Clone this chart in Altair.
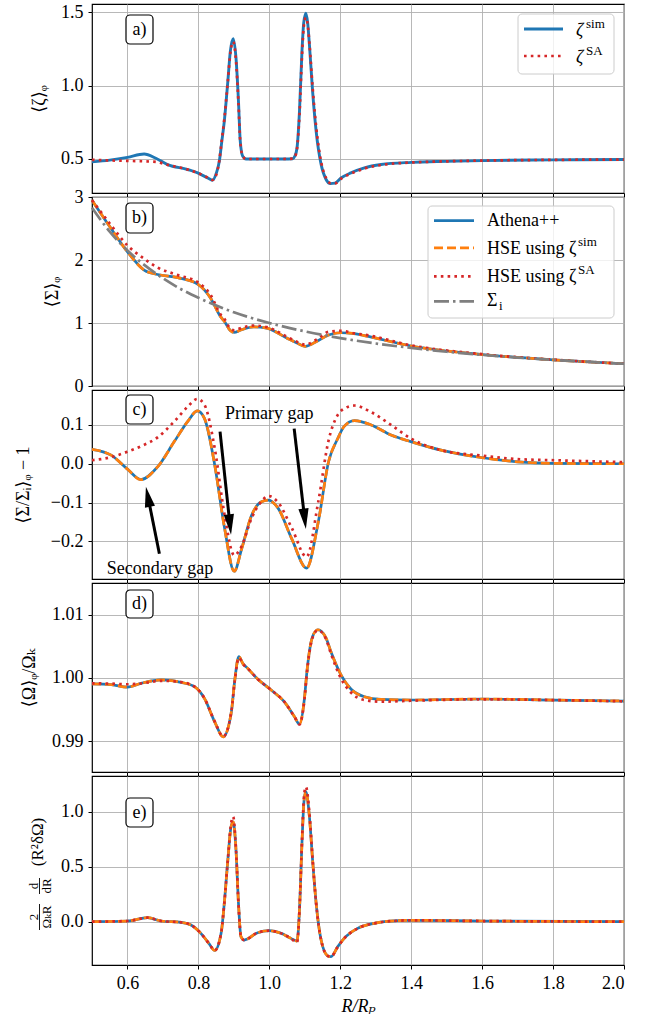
import math
import altair as alt
import pandas as pd

# ---------------- data ----------------
# panel a : <zeta>_phi
R_A = [0.50, 0.55, 0.60, 0.647, 0.68, 0.713, 0.77, 0.798, 0.826, 0.840,
       0.850, 0.859, 0.866, 0.873, 0.883, 0.890, 0.898, 0.906, 0.913, 0.918,
       0.925, 0.934, 0.97, 1.00, 1.04, 1.066, 1.072, 1.078, 1.085, 1.092,
       1.097, 1.103, 1.108, 1.113, 1.122, 1.132, 1.146, 1.160, 1.172, 1.185,
       1.202, 1.230, 1.268, 1.315, 1.400, 1.500, 1.600, 1.800, 2.000]
ZETA_SIM = [0.480, 0.492, 0.511, 0.534, 0.505, 0.462, 0.428, 0.405, 0.371, 0.355,
            0.400, 0.484, 0.620, 0.757, 1.030, 1.234, 1.321, 1.189, 0.893, 0.621,
            0.518, 0.500, 0.500, 0.500, 0.500, 0.502, 0.520, 0.575, 0.825, 1.234,
            1.430, 1.495, 1.430, 1.280, 0.961, 0.689, 0.462, 0.360, 0.332, 0.335,
            0.370, 0.405, 0.439, 0.462, 0.477, 0.484, 0.489, 0.494, 0.496]
ZETA_SA = [0.494, 0.490, 0.487, 0.484, 0.480, 0.460, 0.428, 0.405, 0.373, 0.357,
           0.390, 0.490, 0.630, 0.770, 1.030, 1.220, 1.300, 1.170, 0.880, 0.620,
           0.520, 0.500, 0.500, 0.500, 0.500, 0.502, 0.515, 0.570, 0.800, 1.200,
           1.400, 1.465, 1.420, 1.290, 0.990, 0.720, 0.480, 0.370, 0.335, 0.333,
           0.365, 0.400, 0.435, 0.459, 0.476, 0.484, 0.489, 0.494, 0.496]

# panel b : <Sigma>_phi
R_B = [0.50, 0.55, 0.60, 0.647, 0.685, 0.742, 0.80, 0.835, 0.862, 0.874,
       0.890, 0.901, 0.918, 0.955, 0.993, 1.049, 1.075, 1.101, 1.134, 1.167,
       1.202, 1.240, 1.268, 1.40, 1.60, 1.80, 2.00]
SIGMA_ATHENA = [2.95, 2.53, 2.13, 1.84, 1.77, 1.72, 1.61, 1.39, 1.105, 1.02,
                0.88, 0.85, 0.885, 0.940, 0.918, 0.763, 0.69, 0.630, 0.71, 0.81,
                0.845, 0.83, 0.80, 0.635, 0.50, 0.416, 0.353]
SIGMA_HSE_SIM = [2.95, 2.53, 2.13, 1.84, 1.77, 1.72, 1.61, 1.39, 1.105, 1.02,
                 0.88, 0.85, 0.885, 0.940, 0.918, 0.763, 0.69, 0.630, 0.71, 0.81,
                 0.845, 0.83, 0.80, 0.635, 0.50, 0.416, 0.353]
SIGMA_HSE_SA = [2.95, 2.58, 2.23, 2.02, 1.88, 1.76, 1.64, 1.44, 1.14, 1.06,
                0.91, 0.885, 0.915, 0.960, 0.935, 0.785, 0.71, 0.655, 0.74, 0.86,
                0.875, 0.835, 0.815, 0.645, 0.505, 0.418, 0.354]
R_I = [0.50, 0.55, 0.60, 0.65, 0.70, 0.75, 0.80, 0.90, 1.00, 1.10,
       1.20, 1.30, 1.40, 1.50, 1.60, 1.70, 1.80, 1.90, 2.00]
SIGMA_I = [2.83, 2.45, 2.15, 1.91, 1.71, 1.54, 1.40, 1.17, 1.00, 0.867,
           0.761, 0.675, 0.604, 0.544, 0.494, 0.451, 0.414, 0.382, 0.354]

# panel c : <Sigma/Sigma_i>_phi - 1
R_C = [0.50, 0.554, 0.60, 0.638, 0.685, 0.732, 0.77, 0.797, 0.817, 0.846,
       0.874, 0.901, 0.922, 0.950, 0.978, 0.997, 1.025, 1.063, 1.105, 1.138,
       1.167, 1.193, 1.211, 1.240, 1.287, 1.343, 1.399, 1.484, 1.597, 1.70,
       1.804, 2.00]
C_ATHENA = [0.037, 0.022, -0.014, -0.041, -0.008, 0.057, 0.109, 0.136, 0.117, -0.003,
            -0.167, -0.277, -0.219, -0.133, -0.098, -0.094, -0.115, -0.193, -0.269, -0.150,
            0.005, 0.065, 0.096, 0.111, 0.100, 0.074, 0.057, 0.035, 0.016, 0.005,
            0.001, 0.000]
C_HSE_SIM = [0.037, 0.022, -0.014, -0.041, -0.008, 0.057, 0.109, 0.136, 0.117, -0.003,
             -0.167, -0.277, -0.219, -0.133, -0.098, -0.094, -0.115, -0.193, -0.269, -0.150,
             0.005, 0.065, 0.096, 0.111, 0.100, 0.074, 0.057, 0.035, 0.016, 0.005,
             0.001, 0.000]
C_HSE_SA = [0.009, 0.017, 0.031, 0.045, 0.068, 0.109, 0.147, 0.167, 0.152, 0.040,
            -0.133, -0.236, -0.212, -0.140, -0.097, -0.083, -0.100, -0.165, -0.240, -0.098,
            0.060, 0.126, 0.142, 0.150, 0.133, 0.100, 0.065, 0.035, 0.021, 0.012,
            0.009, 0.004]

# panel d : <Omega>_phi / Omega_K
R_D = [0.50, 0.554, 0.60, 0.638, 0.695, 0.751, 0.789, 0.817, 0.846, 0.870,
       0.893, 0.902, 0.914, 0.925, 0.939, 0.967, 1.005, 1.042, 1.071, 1.085,
       1.099, 1.106, 1.113, 1.122, 1.137, 1.160, 1.174, 1.202, 1.230, 1.268,
       1.315, 1.399, 1.597, 1.804, 2.00]
D_ATHENA = [0.99905, 0.99895, 0.99855, 0.99914, 0.99968, 0.99930, 0.99862, 0.99676, 0.99306, 0.99068,
            0.99465, 0.99940, 1.00338, 1.00230, 1.00152, 0.99984, 0.99810, 0.99624, 0.99386, 0.99270,
            0.99676, 1.00100, 1.00420, 1.00656, 1.00762, 1.00629, 1.00410, 1.00050, 0.99825, 0.99703,
            0.99660, 0.99651, 0.99667, 0.99650, 0.99635]
D_HSE_SIM = [0.99905, 0.99895, 0.99855, 0.99914, 0.99968, 0.99930, 0.99862, 0.99676, 0.99306, 0.99068,
             0.99465, 0.99940, 1.00338, 1.00230, 1.00152, 0.99984, 0.99810, 0.99624, 0.99386, 0.99270,
             0.99676, 1.00100, 1.00420, 1.00656, 1.00762, 1.00629, 1.00410, 1.00050, 0.99825, 0.99703,
             0.99660, 0.99651, 0.99667, 0.99650, 0.99635]
D_HSE_SA = [0.99915, 0.99910, 0.99900, 0.99912, 0.99955, 0.99935, 0.99862, 0.99680, 0.99310, 0.99075,
            0.99470, 0.99930, 1.00320, 1.00225, 1.00150, 0.99984, 0.99810, 0.99624, 0.99386, 0.99265,
            0.99660, 1.00080, 1.00400, 1.00640, 1.00755, 1.00610, 1.00380, 0.99990, 0.99770, 0.99650,
            0.99625, 0.99640, 0.99662, 0.99650, 0.99630]

# panel e : 2/(Omega_K R) d/dR (R^2 dOmega)
R_E = [0.50, 0.60, 0.657, 0.695, 0.751, 0.779, 0.807, 0.830, 0.846, 0.864,
       0.873, 0.883, 0.892, 0.898, 0.906, 0.913, 0.920, 0.929, 0.967, 1.000,
       1.033, 1.061, 1.078, 1.085, 1.092, 1.098, 1.103, 1.113, 1.122, 1.132,
       1.146, 1.165, 1.174, 1.193, 1.211, 1.249, 1.296, 1.362, 1.40, 1.60, 2.00]
E_ATHENA = [0.000, 0.006, 0.036, 0.006, -0.006, -0.030, -0.106, -0.200, -0.262, -0.106,
            0.167, 0.560, 0.864, 0.909, 0.652, 0.167, -0.136, -0.167, -0.100, -0.082,
            -0.106, -0.152, -0.176, 0.106, 0.712, 1.106, 1.182, 0.955, 0.560, 0.167,
            -0.167, -0.312, -0.318, -0.227, -0.152, -0.061, -0.015, 0.009, 0.012, 0.006, 0.000]
E_HSE_SIM = [0.000, 0.006, 0.036, 0.006, -0.006, -0.030, -0.106, -0.200, -0.262, -0.106,
             0.167, 0.560, 0.864, 0.909, 0.652, 0.167, -0.136, -0.167, -0.100, -0.082,
             -0.106, -0.152, -0.176, 0.106, 0.712, 1.106, 1.182, 0.955, 0.560, 0.167,
             -0.167, -0.312, -0.318, -0.227, -0.152, -0.061, -0.015, 0.009, 0.012, 0.006, 0.000]
E_HSE_SA = [0.000, 0.006, 0.036, 0.006, -0.006, -0.030, -0.106, -0.200, -0.262, -0.106,
            0.167, 0.560, 0.890, 0.955, 0.660, 0.167, -0.136, -0.167, -0.100, -0.082,
            -0.106, -0.152, -0.190, 0.106, 0.730, 1.150, 1.227, 0.990, 0.570, 0.167,
            -0.167, -0.312, -0.318, -0.227, -0.152, -0.061, -0.015, 0.009, 0.012, 0.006, 0.000]

# annotations of panel c
GAP_TEXT = ["Primary gap", "Secondary gap"]
GAP_TEXT_R = [1.0, 0.692]
GAP_TEXT_V = [0.129, -0.270]
ARROW_START_R = [0.861, 1.070, 0.690]
ARROW_START_V = [0.0827, 0.0904, -0.232]
ARROW_TIP_R = [0.892, 1.103, 0.652]
ARROW_TIP_V = [-0.183, -0.168, -0.059]

PANEL_LABELS = ["a)", "b)", "c)", "d)", "e)"]

# ---------------- style ----------------
W, H = 532, 189
X_DOMAIN = [0.5, 2.0]
X_TICKS = [0.6, 0.8, 1.0, 1.2, 1.4, 1.6, 1.8, 2.0]
FONT = "'Liberation Serif', 'DejaVu Serif', serif"
FS = 18
BLUE, ORANGE, RED, GRAY = "#1f77b4", "#ff7f0e", "#d62728", "#7f7f7f"
DASHED = [9, 4]
DOTTED = [2.6, 4.2]
DASHDOT = [15, 4, 2.5, 4]
DUMMY = pd.DataFrame({"k": [0]})

A_DOM = [0.268, 1.557]
B_DOM = [0.0, 3.0]
C_DOM = [-0.297, 0.190]
D_DOM = [0.98513, 1.01501]
E_DOM = [-0.394, 1.325]


def x_enc(bottom):
    if bottom:
        ax = alt.Axis(values=X_TICKS, format=".1f", title="R/Rₚ", titleFontStyle="italic",
                      tickSize=4, labelPadding=5, titlePadding=5)
    else:
        ax = alt.Axis(values=X_TICKS, labels=False, title=None, tickSize=4,
                      minExtent=0, maxExtent=4)
    return alt.X("R:Q", scale=alt.Scale(domain=X_DOMAIN, nice=False, zero=False), axis=ax)


def y_enc(domain, ticks, fmt, title=None, title_x=-50):
    kw = dict(values=ticks, format=fmt, tickSize=4, labelPadding=5)
    if title:
        kw.update(title=title, titleX=title_x, titleY=H / 2, titleAngle=270,
                  titleAlign="center", titleBaseline="middle")
    else:
        kw.update(title=None)
    return alt.Y("v:Q", scale=alt.Scale(domain=domain, nice=False, zero=False), axis=alt.Axis(**kw))


def line(R, V, color, width, dash, x, y):
    df = pd.DataFrame({"R": R, "v": V})
    kw = dict(color=color, strokeWidth=width, interpolate="monotone", strokeCap="butt")
    if dash:
        kw["strokeDash"] = dash
    return alt.Chart(df).mark_line(**kw).encode(x=x, y=y)


def text(s, px, py, size=FS, align="left", angle=0, italic=False):
    kw = dict(text=s, font=FONT, fontSize=size, align=align, baseline="middle", color="black")
    if angle:
        kw["angle"] = angle
    if italic:
        kw["fontStyle"] = "italic"
    return alt.Chart(DUMMY).mark_text(**kw).encode(x=alt.value(px), y=alt.value(py))


def rbox(x0, x1, y0, y1, stroke="black", sw=1.2, radius=4, fill_opacity=1.0):
    return alt.Chart(DUMMY).mark_rect(fill="white", fillOpacity=fill_opacity, stroke=stroke,
                                      strokeWidth=sw, cornerRadius=radius).encode(
        x=alt.value(x0), x2=alt.value(x1), y=alt.value(y0), y2=alt.value(y1))


def sample(x0, x1, y, color, width, dash):
    kw = dict(color=color, strokeWidth=width, strokeCap="butt")
    if dash:
        kw["strokeDash"] = dash
    return alt.Chart(DUMMY).mark_rule(**kw).encode(x=alt.value(x0), x2=alt.value(x1), y=alt.value(y))


def vrule(px, y0, y1, width=0.9):
    return alt.Chart(DUMMY).mark_rule(color="black", strokeWidth=width).encode(
        x=alt.value(px), y=alt.value(y0), y2=alt.value(y1))


def panel_label(s, y0, y1):
    return [rbox(34, 61, y0, y1), text(s, 47.5, (y0 + y1) / 2, align="center")]


# ---------------- panel a ----------------
xa, ya = x_enc(False), y_enc(A_DOM, [0.5, 1.0, 1.5], ".1f", "⟨ζ⟩ᵩ", -53)
panel_a = alt.layer(
    line(R_A, ZETA_SIM, BLUE, 2.9, None, xa, ya),
    line(R_A, ZETA_SA, RED, 2.7, DOTTED, xa, ya),
    rbox(426, 522, 10, 70, stroke="#cccccc", sw=1, radius=4, fill_opacity=0.8),
    sample(432, 471, 25, BLUE, 2.9, None),
    sample(432, 471, 52, RED, 2.7, DOTTED),
    text("ζ", 484, 27, italic=True), text("sim", 494, 20, size=13),
    text("ζ", 484, 54, italic=True), text("SA", 494, 47, size=13),
    *panel_label("a)", 11, 40),
).properties(width=W, height=H)

# ---------------- panel b ----------------
xb, yb = x_enc(False), y_enc(B_DOM, [0, 1, 2, 3], "d", "⟨Σ⟩ᵩ", -40)
rows_b = [23.6, 50.8, 79.3, 104.3]
panel_b = alt.layer(
    line(R_B, SIGMA_ATHENA, BLUE, 2.7, None, xb, yb),
    line(R_B, SIGMA_HSE_SIM, ORANGE, 2.7, DASHED, xb, yb),
    line(R_B, SIGMA_HSE_SA, RED, 2.7, DOTTED, xb, yb),
    line(R_I, SIGMA_I, GRAY, 2.7, DASHDOT, xb, yb),
    rbox(336, 522, 9, 121, stroke="#cccccc", sw=1, radius=4, fill_opacity=0.8),
    sample(342, 382, rows_b[0], BLUE, 2.7, None),
    sample(342, 382, rows_b[1], ORANGE, 2.7, DASHED),
    sample(342, 382, rows_b[2], RED, 2.7, DOTTED),
    sample(342, 382, rows_b[3], GRAY, 2.7, DASHDOT),
    text("Athena++", 395, rows_b[0]),
    text("HSE using ζ", 395, rows_b[1] + 1), text("sim", 486, rows_b[1] - 6, size=13),
    text("HSE using ζ", 395, rows_b[2] + 1), text("SA", 486, rows_b[2] - 6, size=13),
    text("Σ", 395, rows_b[3]), text("i", 407, rows_b[3] + 5, size=13),
    *panel_label("b)", 6, 36),
).properties(width=W, height=H)

# ---------------- panel c ----------------
xc, yc = x_enc(False), y_enc(C_DOM, [-0.2, -0.1, 0.0, 0.1], ".1f", "⟨Σ/Σᵢ⟩ᵩ − 1", -69)
PXR = W / (X_DOMAIN[1] - X_DOMAIN[0])
PXV = H / (C_DOM[1] - C_DOM[0])
HEAD = "M0,0L-0.5,2L0.5,2Z"
arrow_layers = []
for r0, v0, r1, v1 in zip(ARROW_START_R, ARROW_START_V, ARROW_TIP_R, ARROW_TIP_V):
    dxp = (r1 - r0) * PXR
    dyp = -(v1 - v0) * PXV
    length = math.hypot(dxp, dyp)
    ang = math.degrees(math.atan2(dxp, -dyp)) % 360
    f = 1 - 12.0 / length
    shaft = pd.DataFrame({"R": [r0], "v": [v0], "R2": [r0 + f * (r1 - r0)], "v2": [v0 + f * (v1 - v0)]})
    arrow_layers.append(
        alt.Chart(shaft).mark_rule(color="black", strokeWidth=3, strokeCap="butt").encode(
            x=xc, y=yc, x2="R2:Q", y2="v2:Q"))
    tip = pd.DataFrame({"R": [r1], "v": [v1]})
    arrow_layers.append(
        alt.Chart(tip).mark_point(shape=HEAD, filled=True, size=420, color="black",
                                  opacity=1, angle=ang).encode(x=xc, y=yc))
gap_df = pd.DataFrame({"R": GAP_TEXT_R, "v": GAP_TEXT_V, "t": GAP_TEXT})
panel_c = alt.layer(
    line(R_C, C_ATHENA, BLUE, 2.7, None, xc, yc),
    line(R_C, C_HSE_SIM, ORANGE, 2.7, DASHED, xc, yc),
    line(R_C, C_HSE_SA, RED, 2.7, DOTTED, xc, yc),
    *arrow_layers,
    alt.Chart(gap_df).mark_text(font=FONT, fontSize=FS, align="center", baseline="middle",
                                color="black").encode(x=xc, y=yc, text="t:N"),
    *panel_label("c)", 5, 34),
).properties(width=W, height=H)

# ---------------- panel d ----------------
xd, yd = x_enc(False), y_enc(D_DOM, [0.99, 1.00, 1.01], ".2f", "⟨Ω⟩ᵩ/Ωₖ", -63)
panel_d = alt.layer(
    line(R_D, D_ATHENA, BLUE, 2.7, None, xd, yd),
    line(R_D, D_HSE_SIM, ORANGE, 2.7, DASHED, xd, yd),
    line(R_D, D_HSE_SA, RED, 2.7, DOTTED, xd, yd),
    *panel_label("d)", 7, 35),
).properties(width=W, height=H)

# ---------------- panel e ----------------
xe, ye = x_enc(True), y_enc(E_DOM, [0.0, 0.5, 1.0], ".1f")
panel_e = alt.layer(
    line(R_E, E_ATHENA, BLUE, 2.7, None, xe, ye),
    line(R_E, E_HSE_SIM, ORANGE, 2.7, DASHED, xe, ye),
    line(R_E, E_HSE_SA, RED, 2.7, DOTTED, xe, ye),
    *panel_label("e)", 22, 51),
    text("(R²δΩ)", -54, 66, size=17, align="center", angle=270),
    text("d", -58, 110, size=13, align="center", angle=270),
    vrule(-52.5, 102, 118),
    text("dR", -45, 110, size=13, align="center", angle=270),
    text("2", -58, 141, size=13, align="center", angle=270),
    vrule(-52.5, 128, 154),
    text("ΩₖR", -45, 141, size=13, align="center", angle=270),
).properties(width=W, height=H)

chart = alt.vconcat(panel_a, panel_b, panel_c, panel_d, panel_e, spacing=4, bounds="flush").properties(
    padding={"left": 13, "top": 2, "right": 4, "bottom": 4}
).configure_view(stroke="black", strokeWidth=1.2).configure_axis(
    labelFont=FONT, titleFont=FONT, labelFontSize=FS, titleFontSize=FS,
    labelColor="black", titleColor="black", titleFontWeight="normal",
    tickColor="black", tickWidth=1, domain=False, grid=True,
    gridColor="#b0b0b0", gridWidth=0.9,
)

chart.save("out.html", embed_options={"renderer": "svg", "actions": False})
